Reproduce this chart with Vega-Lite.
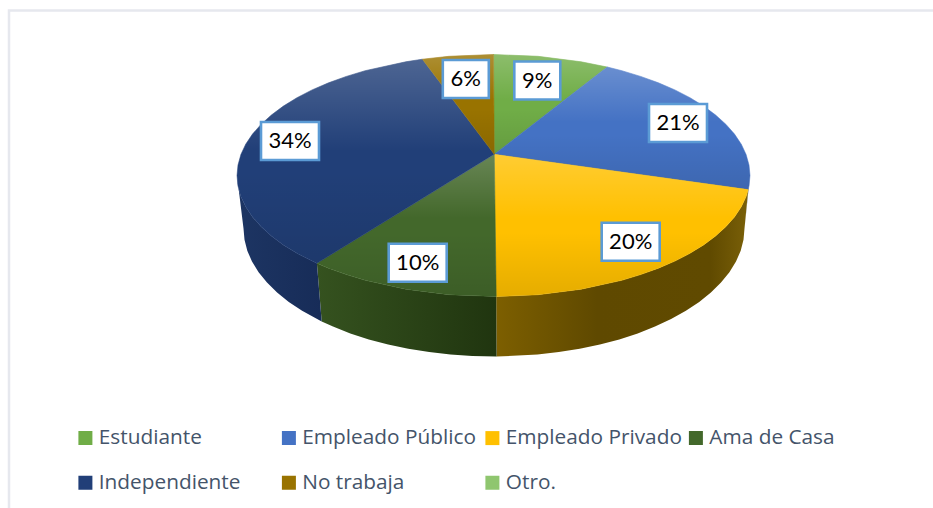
{
"$schema":"https://vega.github.io/schema/vega-lite/v6.json",
"width":933,"height":508,"padding":0,"autosize":{"type":"none"},"background":"white",
"view":{"stroke":null},
"projection":{"type":"identity","scale":1,"translate":[0,0]},
"datasets":{
"faces":[
{"type":"Feature","properties":{"face":"frame"},"geometry":{"type":"LineString","coordinates":[[9,508],[9,10.5],[933,10.5]]}},
{"type":"Feature","properties":{"face":"top","category":"Estudiante"},"geometry":{"type":"Polygon","coordinates":[[[494.3,154.3],[493.5,54.5],[538,56.3],[581.2,61.8],[607.2,67],[494.3,154.3]]]}},
{"type":"Feature","properties":{"face":"top","category":"Empleado Público"},"geometry":{"type":"Polygon","coordinates":[[[494.3,154.3],[607.2,67],[621.8,70.7],[640.6,76.4],[658.4,82.8],[674.9,89.9],[690,97.7],[703.6,106.1],[715.6,115],[726,124.4],[734.5,134.1],[741.3,144.2],[746.1,154.5],[749,165],[750,175.5],[749,186],[748.2,189.6],[494.3,154.3]]]}},
{"type":"Feature","properties":{"face":"top","category":"Empleado Privado"},"geometry":{"type":"Polygon","coordinates":[[[494.3,154.3],[748.2,189.6],[746.1,196.5],[741.3,206.8],[734.5,216.9],[726,226.6],[715.6,236],[703.6,244.9],[690,253.3],[674.9,261.1],[658.4,268.2],[640.6,274.6],[621.8,280.3],[581.2,289.2],[538,294.7],[496.2,296.5],[494.3,154.3]]]}},
{"type":"Feature","properties":{"face":"top","category":"Ama de Casa"},"geometry":{"type":"Polygon","coordinates":[[[494.3,154.3],[496.2,296.5],[449,294.7],[405.8,289.2],[365.2,280.3],[346.4,274.6],[328.6,268.2],[316.9,263.3],[494.3,154.3]]]}},
{"type":"Feature","properties":{"face":"top","category":"Independiente"},"geometry":{"type":"Polygon","coordinates":[[[494.3,154.3],[316.9,263.3],[297,253.3],[283.4,244.9],[271.4,236],[261,226.6],[252.5,216.9],[245.7,206.8],[240.9,196.5],[238,186],[237,175.5],[238,165],[240.9,154.5],[245.7,144.2],[252.5,134.1],[261,124.4],[271.4,115],[283.4,106.1],[297,97.7],[312.1,89.9],[328.6,82.8],[346.4,76.4],[365.2,70.7],[405.8,61.8],[422.4,59.2],[494.3,154.3]]]}},
{"type":"Feature","properties":{"face":"top","category":"No trabaja"},"geometry":{"type":"Polygon","coordinates":[[[494.3,154.3],[422.4,59.2],[449,56.3],[493.5,54.5],[494.3,154.3]]]}},
{"type":"Feature","properties":{"face":"side","category":"Empleado Público"},"geometry":{"type":"Polygon","coordinates":[[[750,175.5],[749,186],[748.2,189.6],[744.5,228.5],[750,175.5]]]}},
{"type":"Feature","properties":{"face":"side","category":"Empleado Privado"},"geometry":{"type":"Polygon","coordinates":[[[748.2,189.6],[746.1,196.5],[741.3,206.8],[734.5,216.9],[726,226.6],[715.6,236],[703.6,244.9],[690,253.3],[674.9,261.1],[658.4,268.2],[640.6,274.6],[621.8,280.3],[581.2,289.2],[538,294.7],[496.2,296.5],[496.6,356.5],[537.5,354.6],[558.8,352.1],[579.7,348.8],[599.9,344.5],[619.3,339.4],[637.7,333.4],[655,326.6],[671.1,319],[685.9,310.8],[699.2,301.9],[710.9,292.5],[721,282.6],[729.4,272.3],[736,261.6],[740.7,250.7],[743.5,239.7],[744.5,228.5],[748.2,189.6]]]}},
{"type":"Feature","properties":{"face":"side","category":"Ama de Casa"},"geometry":{"type":"Polygon","coordinates":[[[496.2,296.5],[449,294.7],[405.8,289.2],[365.2,280.3],[346.4,274.6],[328.6,268.2],[316.9,263.3],[321.7,321.4],[333,326.6],[350.3,333.4],[368.8,339.4],[388.1,344.5],[408.3,348.8],[429.2,352.1],[450.5,354.6],[472.2,356],[496.6,356.5],[496.2,296.5]]]}},
{"type":"Feature","properties":{"face":"side","category":"Independiente"},"geometry":{"type":"Polygon","coordinates":[[[316.9,263.3],[297,253.3],[283.4,244.9],[271.4,236],[261,226.6],[252.5,216.9],[245.7,206.8],[240.9,196.5],[238,186],[237,175.5],[243.5,228.5],[244.5,239.7],[247.3,250.7],[252,261.6],[258.6,272.3],[267,282.6],[277.1,292.5],[288.8,301.9],[302.1,310.8],[321.7,321.4],[316.9,263.3]]]}}
],
"labels":[
{"category":"Estudiante","share":0.09,"lon":537.3,"lat":80.5},
{"category":"Empleado Público","share":0.21,"lon":678,"lat":123},
{"category":"Empleado Privado","share":0.20,"lon":630.7,"lat":241.7},
{"category":"Ama de Casa","share":0.10,"lon":417.7,"lat":262.7},
{"category":"Independiente","share":0.34,"lon":290,"lat":141},
{"category":"No trabaja","share":0.06,"lon":465.8,"lat":79}
]
},
"layer":[
{"data":{"name":"faces"},"transform":[{"filter":{"field":"properties.face","equal":"frame"}}],
 "mark":{"type":"geoshape","filled":false,"stroke":"#e6e8ee","strokeWidth":2.5},"encoding":{}},
{"data":{"name":"faces"},"transform":[{"filter":"datum.properties.face==='side' && datum.properties.category==='Empleado Público'"}],
 "mark":{"type":"geoshape","fill":"#55607a","stroke":null},"encoding":{}},
{"data":{"name":"faces"},"transform":[{"filter":"datum.properties.face==='side' && datum.properties.category==='Empleado Privado'"}],
 "mark":{"type":"geoshape","stroke":null,"fill":{"gradient":"linear","x1":0,"y1":0,"x2":1,"y2":0,"stops":[{"offset":0,"color":"#7d5f00"},{"offset":0.4,"color":"#5f4900"},{"offset":0.85,"color":"#604a00"},{"offset":1,"color":"#7a6008"}]}},"encoding":{}},
{"data":{"name":"faces"},"transform":[{"filter":"datum.properties.face==='side' && datum.properties.category==='Ama de Casa'"}],
 "mark":{"type":"geoshape","stroke":null,"fill":{"gradient":"linear","x1":0,"y1":0,"x2":1,"y2":0,"stops":[{"offset":0,"color":"#35521f"},{"offset":1,"color":"#20350f"}]}},"encoding":{}},
{"data":{"name":"faces"},"transform":[{"filter":"datum.properties.face==='side' && datum.properties.category==='Independiente'"}],
 "mark":{"type":"geoshape","stroke":null,"fill":{"gradient":"linear","x1":0,"y1":0,"x2":1,"y2":0,"stops":[{"offset":0,"color":"#1d3563"},{"offset":1,"color":"#172c58"}]}},"encoding":{}},
{"data":{"name":"faces"},"transform":[{"filter":{"field":"properties.face","equal":"top"}}],
 "mark":{"type":"geoshape","strokeWidth":0.5},
 "encoding":{"color":{"field":"properties.category","type":"nominal",
  "scale":{"domain":["Estudiante","Empleado Público","Empleado Privado","Ama de Casa","Independiente","No trabaja","Otro."],"range":["#70ad47","#4472c4","#ffc000","#43682b","#213f78","#997300","#8fc66f"]},
  "legend":{"title":null,"orient":"none","legendX":75,"legendY":429,"columns":4,"direction":"horizontal","gridAlign":"all","columnPadding":3.5,"rowPadding":23.7,"symbolType":"square","symbolSize":196,"symbolStrokeWidth":0,"labelOffset":3,"labelFont":"Open Sans","labelFontSize":20.8,"labelColor":"#44546a","labelLimit":300,"clipHeight":18}},
  "stroke":{"field":"properties.category","type":"nominal","scale":{"domain":["Estudiante","Empleado Público","Empleado Privado","Ama de Casa","Independiente","No trabaja","Otro."],"range":["#70ad47","#4472c4","#ffc000","#43682b","#213f78","#997300","#8fc66f"]},"legend":null}}},
{"data":{"name":"faces"},"transform":[{"filter":{"field":"properties.face","equal":"top"}}],
 "mark":{"type":"geoshape","stroke":null,"fill":{"gradient":"linear","x1":0,"y1":0,"x2":0,"y2":1,"stops":[{"offset":0,"color":"rgba(255,255,255,0.2)"},{"offset":0.45,"color":"rgba(255,255,255,0)"},{"offset":0.55,"color":"rgba(0,0,0,0)"},{"offset":1,"color":"rgba(0,0,0,0.1)"}]}},"encoding":{}},
{"data":{"name":"labels"},"transform":[{"filter":"datum.share>=0.1"}],
 "mark":{"type":"point","filled":true,"fill":"white","stroke":"#5b9bd5","strokeWidth":2.6,"opacity":1,"shape":"M-1,-0.655H1V0.655H-1Z","size":3364},
 "encoding":{"longitude":{"field":"lon","type":"quantitative"},"latitude":{"field":"lat","type":"quantitative"}}},
{"data":{"name":"labels"},"transform":[{"filter":"datum.share<0.1"}],
 "mark":{"type":"point","filled":true,"fill":"white","stroke":"#5b9bd5","strokeWidth":2.6,"opacity":1,"shape":"M-1,-0.826H1V0.826H-1Z","size":2116},
 "encoding":{"longitude":{"field":"lon","type":"quantitative"},"latitude":{"field":"lat","type":"quantitative"}}},
{"data":{"name":"labels"},
 "mark":{"type":"text","font":"Lato","fontSize":22,"color":"#000000","align":"center","baseline":"middle"},
 "encoding":{"longitude":{"field":"lon","type":"quantitative"},"latitude":{"field":"lat","type":"quantitative"},"text":{"field":"share","type":"quantitative","format":".0%"}}}
]
}
